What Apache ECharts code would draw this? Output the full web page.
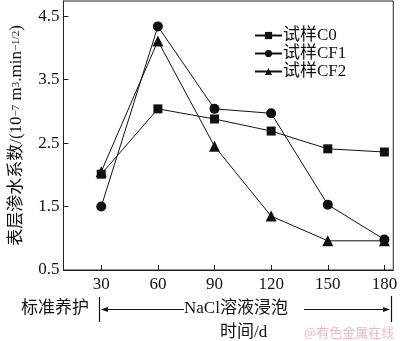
<!DOCTYPE html>
<html>
<head>
<meta charset="utf-8">
<script src="https://cdn.jsdelivr.net/npm/echarts@6/dist/echarts.min.js"></script>
<style>
  html, body { margin: 0; padding: 0; background: #fff; }
  #chart { width: 400px; height: 341px; }
</style>
</head>
<body>
<div id="chart"></div>
<script>
// Days of exposure (x) and surface water-penetration coefficient values
const days = [30, 60, 90, 120, 150, 180];
const xTicks = [30, 60, 90, 120, 150, 180];
const yTicks = [0.5, 1.5, 2.5, 3.5, 4.5];
const seriesNames = ['试样C0', '试样CF1', '试样CF2'];
const valuesC0  = [2.01, 3.04, 2.88, 2.69, 2.41, 2.36];
const valuesCF1 = [1.50, 4.34, 3.04, 2.97, 1.53, 0.98];
const valuesCF2 = [2.05, 4.11, 2.45, 1.35, 0.96, 0.96];

const serif = '"Liberation Serif", "Noto Sans CJK SC", serif';
const ink = '#111';

function pairs(vals) { return days.map((d, i) => [d, vals[i]]); }

function lineSeries(name, vals, symbol, size) {
  return {
    name: name,
    type: 'line',
    data: pairs(vals),
    symbol: symbol,
    symbolSize: size,
    lineStyle: { color: ink, width: 1 },
    itemStyle: { color: ink },
    emphasis: { disabled: true },
    animation: false
  };
}

const chart = echarts.init(document.getElementById('chart'), null, { renderer: 'canvas' });

chart.setOption({
  animation: false,
  grid: {
    left: 58, right: 3, top: 1, bottom: 71,
    show: true, borderColor: '#222', borderWidth: 1, backgroundColor: 'transparent'
  },
  legend: {
    orient: 'vertical',
    left: 249, top: 22,
    itemWidth: 27, itemHeight: 9, itemGap: 1,
    data: seriesNames,
    textStyle: { fontFamily: serif, fontSize: 17, color: ink, padding: [0, 0, 0, -4] },
    selectedMode: false
  },
  xAxis: {
    type: 'value',
    min: 10, max: 184.7,
    axisLine: { lineStyle: { color: '#222', width: 1 } },
    axisTick: { inside: true, length: 5, customValues: xTicks, lineStyle: { color: '#222' } },
    axisLabel: { customValues: xTicks, fontFamily: serif, fontSize: 17, color: ink, margin: 6 },
    splitLine: { show: false }
  },
  yAxis: {
    type: 'value',
    min: 0.5, max: 4.74,
    axisLine: { lineStyle: { color: '#222', width: 1 } },
    axisTick: { inside: true, length: 5, customValues: yTicks, lineStyle: { color: '#222' } },
    axisLabel: { customValues: yTicks, fontFamily: serif, fontSize: 17, color: ink, margin: 4,
                 formatter: v => v.toFixed(1) },
    splitLine: { show: false },
    name: '{a|表层渗水系数/(10}{s|−7}{a| m}{s|3}{a|.min}{s|−1/2}{a|)}',
    nameLocation: 'middle',
    nameGap: 37,
    nameRotate: 90,
    nameTextStyle: {
      rich: {
        a: { fontFamily: serif, fontSize: 17, color: ink, height: 20, verticalAlign: 'bottom' },
        s: { fontFamily: serif, fontSize: 11, color: ink, height: 20, verticalAlign: 'top' }
      }
    }
  },
  series: [
    lineSeries(seriesNames[0], valuesC0, 'rect', 9),
    lineSeries(seriesNames[1], valuesCF1, 'circle', 10),
    lineSeries(seriesNames[2], valuesCF2, 'triangle', 11)
  ],
  graphic: [
    { type: 'text', left: 21, top: 300,
      style: { text: '标准养护', font: '17px ' + serif, fill: ink } },
    { type: 'line', shape: { x1: 99.5, y1: 297, x2: 99.5, y2: 322 },
      style: { stroke: ink, lineWidth: 1.2 } },
    { type: 'line', shape: { x1: 103, y1: 309.5, x2: 184, y2: 309.5 },
      style: { stroke: ink, lineWidth: 1 } },
    { type: 'polygon', shape: { points: [[101, 309.5], [108, 307], [108, 312]] },
      style: { fill: ink } },
    { type: 'text', left: 184, top: 300,
      style: { text: 'NaCl溶液浸泡', font: '17px ' + serif, fill: ink } },
    { type: 'line', shape: { x1: 304, y1: 309.5, x2: 388, y2: 309.5 },
      style: { stroke: ink, lineWidth: 1 } },
    { type: 'polygon', shape: { points: [[390, 309.5], [383, 307], [383, 312]] },
      style: { fill: ink } },
    { type: 'line', shape: { x1: 391.5, y1: 296, x2: 391.5, y2: 322 },
      style: { stroke: ink, lineWidth: 1.2 } },
    { type: 'text', left: 220, top: 324,
      style: { text: '时间/d', font: '17px ' + serif, fill: ink } },
    { type: 'text', left: 304, top: 326,
      style: { text: '@有色金属在线', font: '13px "Noto Sans CJK SC", sans-serif', fill: '#f2b9bd' } }
  ]
});
</script>
</body>
</html>
